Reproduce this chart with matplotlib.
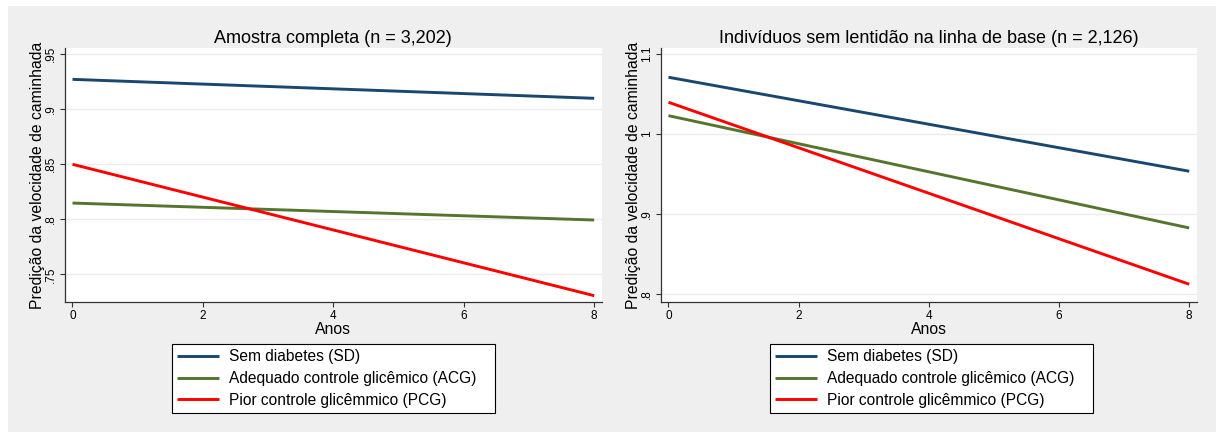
import matplotlib
matplotlib.use("Agg")
import matplotlib.pyplot as plt
from matplotlib.patches import Rectangle

plt.rcParams['font.family'] = ['Liberation Sans', 'DejaVu Sans']

anos = [0, 8]
labels = ["Sem diabetes (SD)", "Adequado controle glicêmico (ACG)", "Pior controle glicêmmico (PCG)"]
colors = ["#1a476f", "#55752f", "#ff0000"]

# predicted walking speed at year 0 and year 8
full_sd = [0.927, 0.9098]
full_acg = [0.8147, 0.7993]
full_pcg = [0.8499, 0.7306]

base_sd = [1.0706, 0.9534]
base_acg = [1.0227, 0.8827]
base_pcg = [1.0394, 0.8125]

full_ticks = [0.75, 0.8, 0.85, 0.9, 0.95]
full_ticklabels = [".75", ".8", ".85", ".9", ".95"]
base_ticks = [0.8, 0.9, 1.0, 1.1]
base_ticklabels = [".8", ".9", "1", "1.1"]

W, H = 1216, 432
fig = plt.figure(figsize=(W / 100, H / 100), dpi=100, facecolor="white")
fig.patches.append(Rectangle((8 / W, 0), 1 - 8 / W, 1 - 6 / H, transform=fig.transFigure,
                             facecolor="#efefef", edgecolor="none", zorder=-10))

panels = [
    dict(rect=[65 / W, 1 - 302.3 / H, 536.7 / W, 254 / H], title="Amostra completa (n = 3,202)",
         series=[full_sd, full_acg, full_pcg], ylim=(0.7246, 0.9552),
         ticks=full_ticks, ticklabels=full_ticklabels, leg=172),
    dict(rect=[661 / W, 1 - 302.3 / H, 535.7 / W, 254 / H],
         title="Indivíduos sem lentidão na linha de base (n = 2,126)",
         series=[base_sd, base_acg, base_pcg], ylim=(0.790, 1.1067),
         ticks=base_ticks, ticklabels=base_ticklabels, leg=770),
]

for p in panels:
    ax = fig.add_axes(p["rect"])
    ax.set_facecolor("white")
    for vals, c, lab in zip(p["series"], colors, labels):
        ax.plot(anos, vals, color=c, lw=2.1, label=lab, solid_capstyle="butt")
    ax.set_xlim(-0.115, 8.115)
    ax.set_ylim(*p["ylim"])
    ax.set_xticks([0, 2, 4, 6, 8])
    ax.set_yticks(p["ticks"])
    ax.set_yticklabels(p["ticklabels"], rotation=90, va="center")
    ax.tick_params(labelsize=8.5, length=3.6, width=0.8, color="#333333", pad=2)
    ax.grid(axis="y", color="#ececec", lw=1.0)
    ax.set_axisbelow(True)
    for s in ["top", "right"]:
        ax.spines[s].set_visible(False)
    for s in ["left", "bottom"]:
        ax.spines[s].set_color("#333333")
        ax.spines[s].set_linewidth(0.9)
    ax.set_title(p["title"], fontsize=13, pad=4)
    ax.set_xlabel("Anos", fontsize=11.3, labelpad=0)
    ax.set_ylabel("Predição da velocidade de caminhada", fontsize=11.3, labelpad=0)
    x0 = p["leg"] / W
    leg = ax.legend(loc="upper left", bbox_to_anchor=(x0, 1 - 344 / H - 0.01, 323 / W, 0.01),
                    bbox_transform=fig.transFigure, mode="expand", fontsize=11.2,
                    handlelength=2.7, handletextpad=0.6, labelspacing=0.42,
                    borderpad=0.35, borderaxespad=0, fancybox=False, framealpha=1,
                    edgecolor="black")
    leg.get_frame().set_linewidth(0.8)

fig.savefig("out.png", dpi=100, facecolor=fig.get_facecolor())
